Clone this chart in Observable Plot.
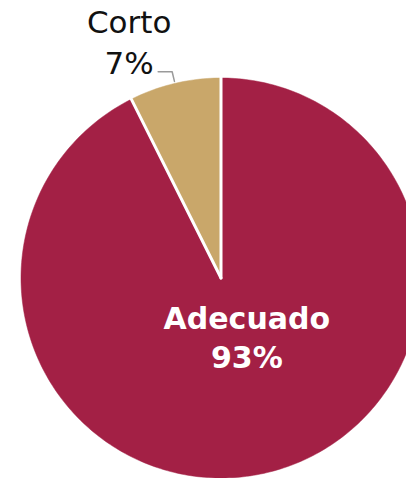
<!DOCTYPE html>
<html><head><meta charset="utf-8">
<script src="https://cdn.jsdelivr.net/npm/d3@7"></script>
<script src="https://cdn.jsdelivr.net/npm/@observablehq/plot@0.6"></script>
<style>body{margin:0;background:#fff;} svg{display:block}</style>
</head><body><div id="chart"></div>
<script>
const categories = ["Adecuado", "Corto"];
const values = [92.6, 7.4];
const labels = ["93%", "7%"];
const colors = ["#A32045", "#C9A76A"];

const W = 406, H = 478, cx = 220.5, cy = 277.5, R = 200;

const total = d3.sum(values);
let acc = 0;
const slices = categories.map((c, i) => {
  const a0 = acc / total * 360; acc += values[i]; const a1 = acc / total * 360;
  return {category: c, value: values[i], label: labels[i], a0, a1, mid: (a0 + a1) / 2};
});
const rad = d => d * Math.PI / 180;
const pt = (deg, r) => ({x: r * Math.sin(rad(deg)), y: r * Math.cos(rad(deg))});
const pts = slices.flatMap(s => {
  const n = Math.max(2, Math.ceil(s.a1 - s.a0));
  const arc = d3.range(n + 1).map(k => ({category: s.category, ...pt(s.a0 + (s.a1 - s.a0) * k / n, 1)}));
  return [{category: s.category, x: 0, y: 0}, ...arc, {category: s.category, x: 0, y: 0}];
});
const seps = slices.map(s => ({x1: 0, y1: 0, x2: pt(s.a0, 1.01).x, y2: pt(s.a0, 1.01).y}));

const big = slices[0], small = slices[1];
const inner = [{...pt(big.mid, 0.3), text: big.category + "\n" + big.label}];
const elbow = pt(small.mid, 1.06);
const leader = [pt(small.mid, 1.01), elbow, {x: elbow.x - 14 / R, y: elbow.y}];
const outer = [{x: elbow.x - 14 / R, y: elbow.y, text: small.category + "\n" + small.label}];

const chart = Plot.plot({
  width: W, height: H, margin: 0,
  x: {domain: [-cx / R, (W - cx) / R], axis: null},
  y: {domain: [-(H - cy) / R, cy / R], axis: null},
  color: {domain: categories, range: colors},
  style: {background: "#fff"},
  marks: [
    Plot.line(pts, {x: "x", y: "y", z: "category", fill: "category", stroke: "category", strokeWidth: 0.5, curve: "linear"}),
    Plot.link(seps, {x1: "x1", y1: "y1", x2: "x2", y2: "y2", stroke: "#fff", strokeWidth: 3, strokeLinecap: "round"}),
    Plot.line(leader, {x: "x", y: "y", stroke: "#9a9a9a", strokeWidth: 1.5, curve: "linear"}),
    Plot.text(inner, {x: "x", y: "y", text: "text", fill: "#fff", fontSize: 30, fontWeight: "bold", fontFamily: "DejaVu Sans", lineHeight: 1.3, lineAnchor: "middle", textAnchor: "middle", dx: 12, dy: 0}),
    Plot.text(outer, {x: "x", y: "y", text: "text", fill: "#111", fontSize: 31, fontFamily: "DejaVu Sans", lineHeight: 1.3, lineAnchor: "bottom", textAnchor: "middle", dx: -29, dy: 2})
  ]
});
document.getElementById("chart").append(chart);
</script>
</body></html>
